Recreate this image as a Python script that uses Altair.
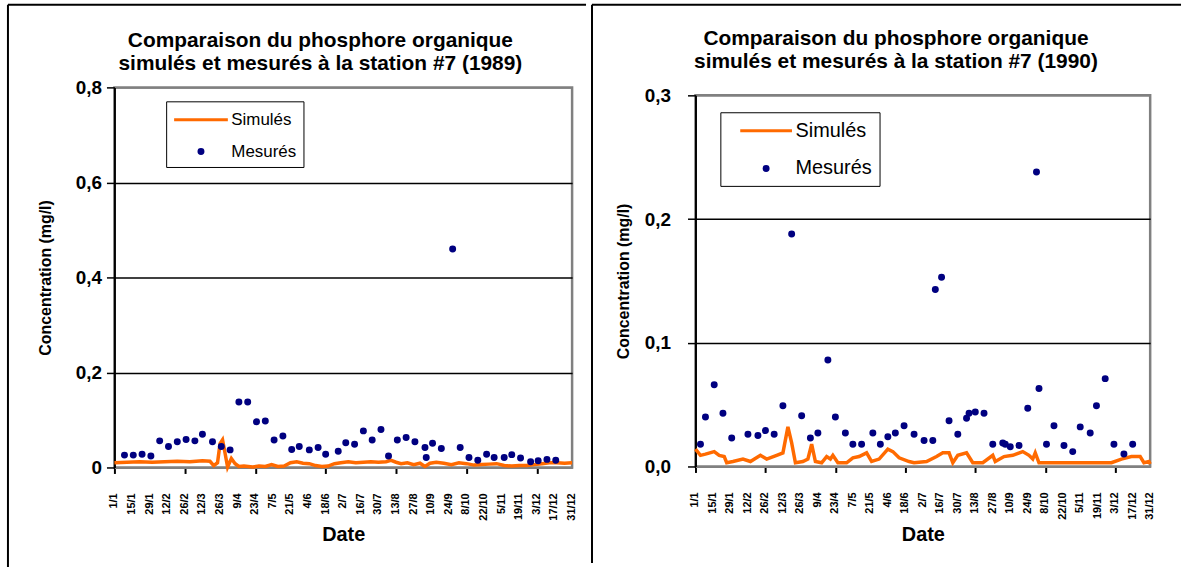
import altair as alt
import pandas as pd

# ---------------- data ----------------
DATE_LABELS = ['1/1', '15/1', '29/1', '12/2', '26/2', '12/3', '26/3', '9/4', '23/4',
               '7/5', '21/5', '4/6', '18/6', '2/7', '16/7', '30/7', '13/8', '27/8',
               '10/9', '24/9', '8/10', '22/10', '5/11', '19/11', '3/12', '17/12', '31/12']
TICK_STEP = 14  # days between labelled ticks
TICK_DAYS = [i * TICK_STEP for i in range(len(DATE_LABELS))]
SERIES = ['Simulés', 'Mesurés']

# 1989 simulated (day of year, mg/l)
SIM89_DAY = [0, 10, 20, 30, 40, 50, 60, 70, 76, 79, 82, 84, 86, 88, 90, 93, 96, 99, 103, 110,
             115, 120, 125, 130, 135, 140, 145, 150, 155, 160, 165, 170, 175, 180, 186, 192,
             198, 204, 210, 216, 220, 224, 228, 233, 238, 243, 247, 251, 256, 262, 268, 274,
             280, 286, 292, 298, 304, 310, 316, 322, 328, 334, 340, 346, 352, 358, 364]
SIM89_VAL = [0.010, 0.011, 0.012, 0.011, 0.012, 0.013, 0.012, 0.014, 0.013, 0.004,
             0.010, 0.050, 0.058, 0.030, 0.001, 0.019, 0.008, 0.002, 0.003, 0.001,
             0.003, 0.002, 0.006, 0.002, 0.003, 0.010, 0.012, 0.009, 0.008, 0.004,
             0.002, 0.003, 0.008, 0.010, 0.012, 0.010, 0.011, 0.012, 0.011, 0.012,
             0.015, 0.011, 0.008, 0.010, 0.006, 0.009, 0.002, 0.009, 0.011, 0.009,
             0.006, 0.010, 0.008, 0.005, 0.006, 0.007, 0.008, 0.004, 0.003, 0.004,
             0.004, 0.006, 0.008, 0.010, 0.010, 0.009, 0.010]
# 1989 measured
MES89_DAY = [8, 15, 22, 29, 36, 43, 50, 57, 64, 70, 78, 85, 92, 99, 106, 113, 120, 127, 134, 141,
             147, 155, 162, 168, 178, 184, 191, 198, 205, 212, 218, 225, 232, 239, 247, 248,
             253, 260, 269, 275, 282, 289, 296, 302, 310, 316, 323, 331, 337, 344, 351]
MES89_VAL = [0.026, 0.026, 0.028, 0.024, 0.056, 0.044, 0.054, 0.059, 0.056, 0.070,
             0.054, 0.044, 0.037, 0.138, 0.138, 0.096, 0.098, 0.058, 0.066, 0.038,
             0.044, 0.037, 0.042, 0.028, 0.034, 0.052, 0.049, 0.077, 0.058, 0.080,
             0.024, 0.058, 0.063, 0.054, 0.042, 0.021, 0.051, 0.040, 0.460, 0.042,
             0.021, 0.015, 0.028, 0.021, 0.021, 0.027, 0.020, 0.012, 0.014, 0.017, 0.015]

# 1990 simulated
SIM90_DAY = [0, 4, 8, 15, 19, 23, 25, 30, 38, 44, 52, 57, 65, 70, 74, 77, 80, 86, 90, 93,
             96, 101, 105, 108, 110, 114, 121, 126, 131, 137, 141, 147, 154, 158, 163, 171,
             175, 185, 193, 198, 203, 206, 210, 217, 222, 230, 238, 240, 247, 254, 262, 267,
             270, 272, 275, 294, 307, 333, 341, 349, 356, 359, 363, 364]
SIM90_VAL = [0.014, 0.009, 0.010, 0.012, 0.009, 0.008, 0.003, 0.004, 0.006, 0.004,
             0.009, 0.006, 0.009, 0.011, 0.032, 0.019, 0.003, 0.004, 0.006, 0.018,
             0.004, 0.003, 0.008, 0.006, 0.009, 0.003, 0.003, 0.007, 0.008, 0.011,
             0.004, 0.006, 0.014, 0.012, 0.007, 0.004, 0.003, 0.004, 0.008, 0.011,
             0.011, 0.003, 0.009, 0.011, 0.003, 0.003, 0.009, 0.004, 0.008, 0.009,
             0.012, 0.009, 0.006, 0.011, 0.003, 0.003, 0.003, 0.003, 0.006, 0.008,
             0.008, 0.003, 0.004, 0.002]
# 1990 measured
MES90_DAY = [4, 8, 15, 22, 29, 42, 50, 56, 63, 70, 77, 85, 92, 98, 106, 112, 120, 126, 133, 142,
             148, 154, 160, 167, 175, 183, 190, 192, 197, 203, 210, 217, 219, 224, 231, 238,
             246, 248, 252, 259, 266, 273, 275, 281, 287, 295, 302, 308, 316, 321, 328, 335,
             343, 350]
MES90_VAL = [0.018, 0.040, 0.066, 0.043, 0.023, 0.026, 0.025, 0.029, 0.026, 0.049,
             0.188, 0.041, 0.023, 0.027, 0.086, 0.040, 0.027, 0.018, 0.018, 0.027,
             0.018, 0.024, 0.027, 0.033, 0.026, 0.021, 0.021, 0.143, 0.153, 0.037,
             0.026, 0.039, 0.043, 0.044, 0.043, 0.018, 0.019, 0.018, 0.016, 0.017,
             0.047, 0.238, 0.063, 0.018, 0.033, 0.017, 0.012, 0.032, 0.027, 0.049,
             0.071, 0.018, 0.010, 0.018]

ORANGE = '#FF6A00'
NAVY = '#000080'
FONT = 'Liberation Sans'
SYM = 400          # legend / point symbol size (half-extent = 10 px)
R = 0.2            # dot radius in symbol units

DOT_PATH = f'M-{R},0A{R},{R},0,1,0,{R},0A{R},{R},0,1,0,-{R},0Z'

TICKS_DF = pd.DataFrame({'day': TICK_DAYS, 'label': DATE_LABELS})


def border(x, y, x2=None, y2=None):
    enc = {'x': alt.value(x), 'y': alt.value(y)}
    if x2 is not None:
        enc['x2'] = alt.value(x2)
    if y2 is not None:
        enc['y2'] = alt.value(y2)
    return alt.Chart(alt.Data(values=[{}])).mark_rule(color='black', strokeWidth=2).encode(**enc)


def panel(sim_day, sim_val, mes_day, mes_val, year, ymax, yvals, ylabel_expr,
          width, height, title_offset, title_dx, leg_x, leg_y, leg_font, leg_row, line_half,
          sym_off, lab_off, borders, ytitle_pad, ylabel_pad, xtitle_pad):
    sim = pd.DataFrame({'day': sim_day, 'val': sim_val, 'series': SERIES[0]})
    mes = pd.DataFrame({'day': mes_day, 'val': mes_val, 'series': SERIES[1]})

    xscale = alt.Scale(domain=[0, 364], nice=False, zero=False)
    xenc = alt.X('day:Q', scale=xscale,
                 axis=alt.Axis(values=TICK_DAYS, labels=False,
                               tickSize=6, tickWidth=2, tickColor='black',
                               domainColor='#808080', domainWidth=2, grid=False,
                               title='Date', titleFontSize=20, titleFontWeight='bold',
                               titleColor='black', titlePadding=xtitle_pad))
    yenc = alt.Y('val:Q', scale=alt.Scale(domain=[0, ymax], nice=False, zero=True),
                 axis=alt.Axis(values=yvals, labelExpr=ylabel_expr, labelFontSize=19,
                               labelFontWeight='bold', labelColor='black',
                               labelPadding=ylabel_pad, tickSize=8, tickWidth=1.5,
                               tickColor='black', domainColor='black', domainWidth=2,
                               grid=True,
                               gridColor={'condition': {'test': f'datum.value <= 0 || datum.value >= {ymax * 0.99}',
                                                        'value': '#808080'},
                                          'value': 'black'},
                               gridWidth=1.5, title='Concentration (mg/l)',
                               titleFontSize=16, titleFontWeight='bold', titleColor='black',
                               titlePadding=ytitle_pad))

    leg = alt.Legend(
        title=None, orient='none', legendX=leg_x, legendY=leg_y, direction='vertical',
        labelFont=FONT, labelFontSize=leg_font, labelColor='black', symbolSize=SYM,
        symbolStrokeWidth=3, symbolOpacity=1, symbolOffset=sym_off,
        rowPadding=leg_row, padding=7, labelOffset=lab_off, strokeColor='black',
        fillColor='white')

    col_scale = alt.Scale(domain=SERIES, range=[ORANGE, NAVY])
    shape_scale = alt.Scale(domain=SERIES,
                            range=[f'M-{line_half},0L{line_half},0', DOT_PATH])

    line = alt.Chart(sim).mark_line(strokeWidth=3.5).encode(
        x=xenc, y=yenc,
        stroke=alt.Stroke('series:N', scale=col_scale, legend=leg))
    pts = alt.Chart(mes).mark_point(filled=True, size=SYM, opacity=1, strokeWidth=3).encode(
        x='day:Q', y='val:Q',
        fill=alt.Fill('series:N', scale=col_scale, legend=leg),
        stroke=alt.Stroke('series:N', scale=col_scale, legend=leg),
        shape=alt.Shape('series:N', scale=shape_scale, legend=leg))
    # date tick labels (rotated), positioned by the x scale
    labels = alt.Chart(TICKS_DF).mark_text(
        angle=270, align='right', baseline='middle', fontSize=11, fontWeight='bold',
        font=FONT, color='black'
    ).encode(x='day:Q', y=alt.value(height + 26), text='label:N')

    layers = [border(*b) for b in borders] + [line, pts, labels]
    title = alt.TitleParams(
        text=['Comparaison du phosphore organique',
              f'simulés et mesurés à la station #7 ({year})'],
        fontSize=21, font=FONT, fontWeight='bold', color='black', anchor='middle',
        offset=title_offset, dx=title_dx, lineHeight=24, frame='group')
    return alt.layer(*layers).properties(width=width, height=height, title=title)


# left panel: plot origin at (113, 88)
left = panel(SIM89_DAY, SIM89_VAL, MES89_DAY, MES89_VAL, 1989, 0.8,
             [0, 0.2, 0.4, 0.6, 0.8],
             "datum.value == 0 ? '0' : replace(format(datum.value, '.1f'), '.', ',')",
             460, 382, -71, -23, 52, 14, 17, 12, 2.7, 16.5, 19,
             [(-107, -83, None, 486), (-107, -83, 474, None)],
             22, 5, 50)
# right panel: plot origin at (695, 96)
right = panel(SIM90_DAY, SIM90_VAL, MES90_DAY, MES90_VAL, 1990, 0.3,
              [0, 0.1, 0.2, 0.3],
              "replace(format(datum.value, '.1f'), '.', ',')",
              457, 373, -69, -27, 25, 17, 20, 16, 2.6, 27.5, 18,
              [(-104, -91, None, 470), (-104, -91, 488, None)],
              13, 17, 51)

chart = alt.hconcat(left, right, spacing=0, center=True).resolve_scale(
    stroke='independent', fill='independent', shape='independent',
    x='independent', y='independent'
).resolve_legend(stroke='independent', fill='independent', shape='independent').properties(
    padding={'left': 5, 'top': 1, 'right': 0, 'bottom': 0},
    background='white'
).configure(font=FONT).configure_view(stroke='#808080', strokeWidth=2.5)

chart.save('out.html', embed_options={'renderer': 'svg', 'actions': False})
